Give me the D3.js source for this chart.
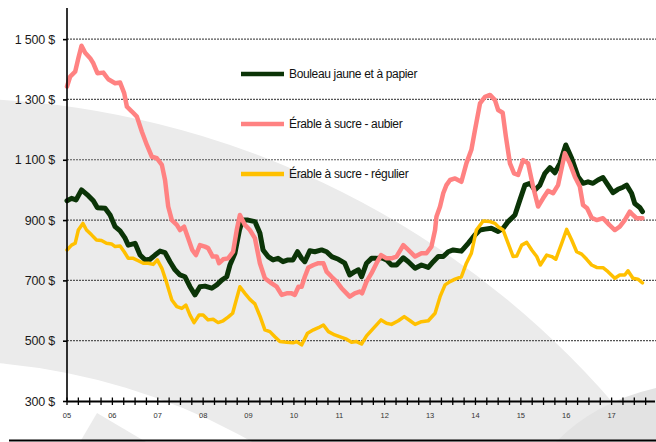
<!DOCTYPE html>
<html>
<head>
<meta charset="utf-8">
<script src="https://cdnjs.cloudflare.com/ajax/libs/d3/7.8.5/d3.min.js"></script>
<style>
	body{margin:0;background:#fff;}
	svg{display:block;font-family:"Liberation Sans", Arial, sans-serif;}
</style>
</head>
<body>
<svg id="chart" width="656" height="442"></svg>
<script>
"use strict";

//prices by date (decimal year)
var bouleau = [
	[2005.00,964],[2005.10,972],[2005.20,967],[2005.32,1000],[2005.47,981],[2005.58,964],[2005.67,941],[2005.84,939],
	[2005.95,917],[2006.06,878],[2006.17,864],[2006.28,840],[2006.35,817],[2006.50,823],[2006.61,784],[2006.72,768],
	[2006.83,770],[2006.94,784],[2007.05,797],[2007.16,792],[2007.27,762],[2007.38,735],[2007.49,718],[2007.60,712],
	[2007.71,679],[2007.82,652],[2007.93,679],[2008.04,681],[2008.19,674],[2008.30,685],[2008.41,701],[2008.52,712],
	[2008.59,751],[2008.70,790],[2008.80,867],[2008.87,900],[2008.99,900],[2009.14,895],[2009.25,857],[2009.32,801],
	[2009.43,779],[2009.54,768],[2009.65,773],[2009.76,762],[2009.87,768],[2009.98,768],[2010.08,795],[2010.17,773],
	[2010.24,762],[2010.35,798],[2010.46,795],[2010.61,801],[2010.72,795],[2010.83,779],[2010.98,770],[2011.12,757],
	[2011.23,718],[2011.34,729],[2011.42,735],[2011.49,712],[2011.60,757],[2011.71,773],[2011.82,773],[2011.93,775],
	[2012.04,768],[2012.15,751],[2012.26,751],[2012.41,775],[2012.52,762],[2012.67,740],[2012.81,751],[2012.96,743],
	[2013.07,762],[2013.18,779],[2013.29,779],[2013.40,795],[2013.51,801],[2013.69,797],[2013.84,823],[2013.99,851],
	[2014.10,867],[2014.21,870],[2014.35,873],[2014.50,862],[2014.61,873],[2014.72,895],[2014.87,917],[2014.98,967],
	[2015.09,1016],[2015.20,1022],[2015.31,1000],[2015.42,1016],[2015.53,1055],[2015.64,1074],[2015.75,1057],[2015.86,1088],
	[2015.99,1149],[2016.12,1105],[2016.26,1044],[2016.37,1022],[2016.48,1027],[2016.59,1022],[2016.70,1033],[2016.81,1041],
	[2016.92,1016],[2017.03,991],[2017.14,1002],[2017.25,1009],[2017.33,1016],[2017.44,989],[2017.51,955],[2017.62,942],
	[2017.68,928]
];

var erableAubier = [
	[2005.00,1343],[2005.07,1376],[2005.18,1392],[2005.25,1437],[2005.32,1478],[2005.40,1455],[2005.51,1437],[2005.58,1420],
	[2005.67,1387],[2005.80,1389],[2005.91,1367],[2006.06,1354],[2006.17,1356],[2006.26,1321],[2006.32,1276],[2006.43,1260],
	[2006.54,1243],[2006.65,1193],[2006.76,1149],[2006.87,1110],[2006.98,1105],[2007.09,1083],[2007.16,1033],[2007.23,945],
	[2007.31,900],[2007.42,884],[2007.49,867],[2007.58,878],[2007.67,840],[2007.76,801],[2007.84,784],[2007.93,817],
	[2008.04,812],[2008.11,807],[2008.21,779],[2008.30,779],[2008.35,757],[2008.44,770],[2008.55,773],[2008.66,795],
	[2008.74,867],[2008.81,917],[2008.92,884],[2009.03,867],[2009.14,840],[2009.25,757],[2009.36,707],[2009.51,690],
	[2009.62,679],[2009.73,652],[2009.84,657],[2009.95,657],[2010.02,652],[2010.10,679],[2010.17,679],[2010.24,712],
	[2010.32,743],[2010.43,751],[2010.54,757],[2010.65,757],[2010.72,729],[2010.83,712],[2010.94,696],[2011.05,674],
	[2011.16,657],[2011.23,646],[2011.34,657],[2011.45,663],[2011.50,657],[2011.60,696],[2011.71,724],[2011.82,757],
	[2011.92,784],[2012.04,773],[2012.15,773],[2012.26,779],[2012.41,817],[2012.52,801],[2012.67,779],[2012.81,790],
	[2012.92,790],[2013.03,812],[2013.11,867],[2013.14,911],[2013.22,945],[2013.29,989],[2013.36,1016],[2013.44,1033],
	[2013.55,1038],[2013.69,1027],[2013.80,1088],[2013.91,1133],[2013.99,1199],[2014.10,1287],[2014.21,1309],[2014.32,1315],
	[2014.43,1298],[2014.50,1265],[2014.60,1256],[2014.67,1177],[2014.76,1088],[2014.85,1055],[2014.94,1050],[2015.05,1099],
	[2015.16,1088],[2015.27,1011],[2015.38,945],[2015.49,972],[2015.60,997],[2015.71,989],[2015.82,1016],[2015.97,1122],
	[2016.08,1088],[2016.19,1044],[2016.30,1011],[2016.37,950],[2016.46,939],[2016.56,908],[2016.67,900],[2016.81,906],
	[2016.95,884],[2017.07,867],[2017.18,878],[2017.29,900],[2017.40,928],[2017.47,917],[2017.55,906],[2017.68,906]
];

var erableRegulier = [
	[2005.00,801],[2005.10,817],[2005.18,823],[2005.25,867],[2005.35,889],[2005.43,867],[2005.54,851],[2005.65,834],
	[2005.76,832],[2005.87,823],[2005.98,821],[2006.06,812],[2006.17,814],[2006.26,795],[2006.35,773],[2006.46,773],
	[2006.57,765],[2006.68,757],[2006.79,757],[2006.90,753],[2006.99,768],[2007.09,740],[2007.20,690],[2007.31,635],
	[2007.42,613],[2007.53,607],[2007.62,618],[2007.71,585],[2007.80,560],[2007.91,585],[2008.00,585],[2008.11,569],
	[2008.22,571],[2008.33,560],[2008.44,566],[2008.55,578],[2008.65,591],[2008.74,641],[2008.81,679],[2008.92,657],
	[2009.03,637],[2009.14,622],[2009.25,582],[2009.36,536],[2009.47,530],[2009.58,513],[2009.69,497],[2009.84,495],
	[2009.98,493],[2010.06,497],[2010.17,486],[2010.30,525],[2010.43,536],[2010.54,543],[2010.65,552],[2010.76,530],
	[2010.90,519],[2011.05,511],[2011.16,505],[2011.27,495],[2011.38,497],[2011.49,489],[2011.60,516],[2011.75,541],
	[2011.92,569],[2012.04,558],[2012.15,554],[2012.30,566],[2012.43,580],[2012.56,566],[2012.67,554],[2012.81,563],
	[2012.96,566],[2013.11,591],[2013.22,646],[2013.33,685],[2013.44,696],[2013.55,704],[2013.69,712],[2013.80,757],
	[2013.91,790],[2014.02,867],[2014.17,897],[2014.32,895],[2014.43,889],[2014.50,878],[2014.61,867],[2014.72,823],
	[2014.83,779],[2014.91,781],[2015.02,817],[2015.13,826],[2015.24,801],[2015.35,779],[2015.43,751],[2015.57,784],
	[2015.68,779],[2015.77,770],[2015.90,823],[2016.01,869],[2016.12,834],[2016.23,795],[2016.34,787],[2016.45,770],
	[2016.56,751],[2016.67,743],[2016.81,742],[2016.92,729],[2017.07,707],[2017.18,718],[2017.29,718],[2017.36,732],
	[2017.47,707],[2017.58,704],[2017.68,692]
];

var seriesNames = ["Bouleau jaune et à papier", "Érable à sucre - aubier", "Érable à sucre - régulier"];
var seriesColors = ["#0b3407", "#ff8282", "#ffc000"];
var yTicks = [300, 500, 700, 900, 1100, 1300, 1500];
var yearLabels = ["05","06","07","08","09","10","11","12","13","14","15","16","17"];

var svg = d3.select("#chart");

var x = d3.scaleLinear().domain([2005, 2018]).range([67, 657]);
var y = d3.scaleLinear().domain([300, 1600]).range([401, 9]);

//watermark swoosh in the background
var bg = svg.append("g");
var cx = -54, cy = 980;
bg.append("path")
	.attr("fill", "#ebebeb")
	.attr("fill-rule", "evenodd")
	.attr("d", "M" + cx + "," + cy + " m-882,0 a882,882 0 1,0 1764,0 a882,882 0 1,0 -1764,0 Z"
		+ " M" + cx + "," + cy + " m-619,0 a619,619 0 1,0 1238,0 a619,619 0 1,0 -1238,0 Z");
bg.append("path")
	.attr("fill", "#ebebeb")
	.attr("d", "M97,413 L80,442 L146,442 Z");
bg.append("path")
	.attr("fill", "#e3e3e3")
	.attr("d", "M556,442 Q595,402 656,388 L656,442 Z");

//dotted horizontal gridlines
svg.selectAll(".grid")
	.data(yTicks.slice(1))
	.enter()
	.append("line")
	.attr("class", "grid")
	.attr("x1", 67)
	.attr("x2", 656)
	.attr("y1", function(d){ return y(d); })
	.attr("y2", function(d){ return y(d); })
	.style("stroke", "#555")
	.style("stroke-width", "1.2px")
	.style("stroke-dasharray", "2,1");

//the price lines, green at the back and yellow on top
var line = d3.line()
	.x(function(d){ return x(d[0]); })
	.y(function(d){ return y(d[1]); });

var allSeries = [bouleau, erableAubier, erableRegulier];
var widths = [5, 4.5, 3.5];
allSeries.forEach(function(s, i){
	svg.append("path")
		.datum(s)
		.attr("d", line)
		.style("fill", "none")
		.style("stroke", seriesColors[i])
		.style("stroke-width", widths[i] + "px")
		.style("stroke-linejoin", "round")
		.style("stroke-linecap", "round");
});

//y axis with tick marks and dollar labels
var yAxis = svg.append("g")
	.attr("transform", "translate(67,0)")
	.call(d3.axisLeft(y).tickValues(yTicks).tickSize(4).tickFormat(function(d){
		return d3.format(",")(d).replace(",", " ") + " $";
	}));
yAxis.select(".domain").attr("d", "M0,8V401").style("stroke", "#000").style("stroke-width", "1.6px");
yAxis.selectAll(".tick line").style("stroke", "#000").style("stroke-width", "1.6px");
yAxis.selectAll(".tick text")
	.attr("x", -12)
	.style("font-size", "12.5px")
	.style("letter-spacing", "-0.2px")
	.style("fill", "#1a1a1a")
	.style("font-family", "Liberation Sans, Arial, sans-serif");

//x axis, quarterly ticks crossing the line
var quarters = d3.range(0, 52).map(function(i){ return 2005 + i / 4; });
svg.append("line")
	.attr("x1", 67).attr("x2", 655)
	.attr("y1", 401.5).attr("y2", 401.5)
	.style("stroke", "#000")
	.style("stroke-width", "1.8px");
svg.selectAll(".qtick")
	.data(quarters)
	.enter()
	.append("line")
	.attr("class", "qtick")
	.attr("x1", function(d){ return x(d); })
	.attr("x2", function(d){ return x(d); })
	.attr("y1", 397.5)
	.attr("y2", 405)
	.style("stroke", "#000")
	.style("stroke-width", "1.3px");
svg.selectAll(".yearLabel")
	.data(yearLabels)
	.enter()
	.append("text")
	.attr("class", "yearLabel")
	.attr("x", function(d, i){ return x(2005 + i); })
	.attr("y", 418)
	.attr("text-anchor", "middle")
	.style("font-size", "7.5px")
	.style("fill", "#333")
	.text(function(d){ return d; });

//bottom rule
svg.append("line")
	.attr("x1", 9).attr("x2", 656)
	.attr("y1", 440.5).attr("y2", 440.5)
	.style("stroke", "#000")
	.style("stroke-width", "2.2px");

//legend
var legend = svg.selectAll(".legend")
	.data(seriesNames)
	.enter()
	.append("g")
	.attr("class", "legend")
	.attr("transform", function(d, i){ return "translate(241," + (74 + i * 50) + ")"; });
legend.append("line")
	.attr("x1", 0).attr("x2", 43)
	.style("stroke", function(d, i){ return seriesColors[i]; })
	.style("stroke-width", "4.5px");
legend.append("text")
	.attr("x", 48)
	.attr("y", 4)
	.style("font-size", "12px")
	.style("letter-spacing", "-0.35px")
	.style("fill", "#111")
	.text(function(d){ return d; });
</script>
</body>
</html>
